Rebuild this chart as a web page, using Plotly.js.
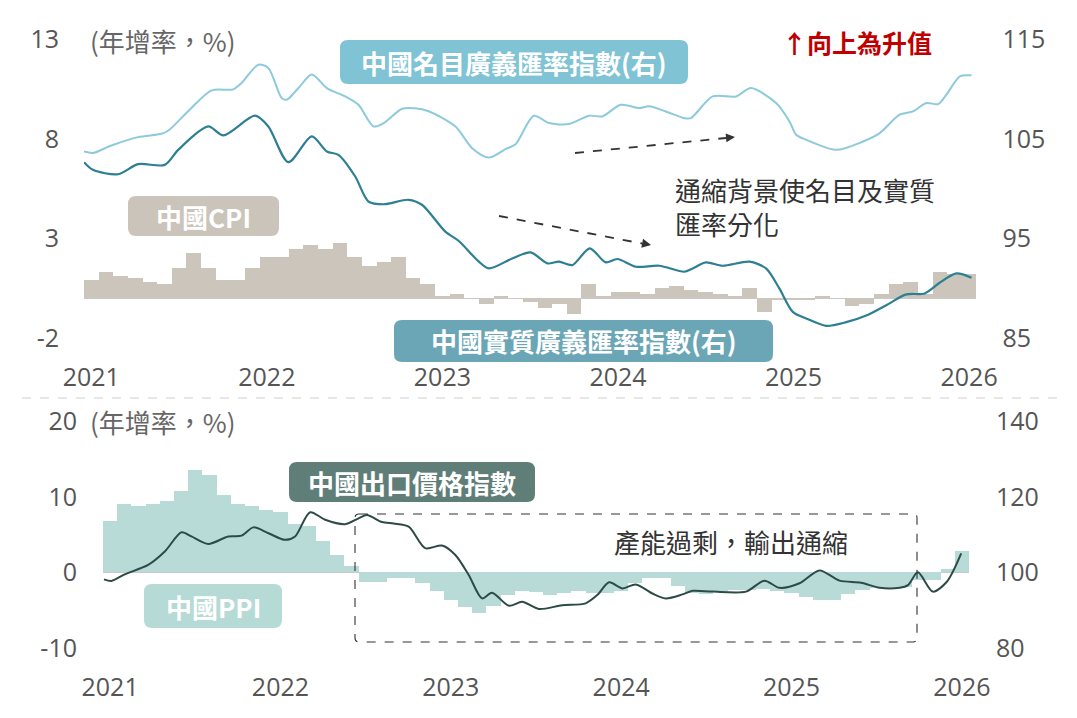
<!DOCTYPE html>
<html><head><meta charset="utf-8">
<script src="https://cdn.plot.ly/plotly-3.0.1.min.js"></script>
<style>body{margin:0;background:#fff}#chart{width:1077px;height:718px}</style>
</head><body><div id="chart"></div>
<script>
// ---- data (x = month index; label ticks every 12 months) ----
const yearLabels = ['2021','2022','2023','2024','2025','2026'];
const cpiTicks = [-2, 3, 8, 13];
const cpiTickText = ['-2', '3', '8', '13'];
const fxTicks = [85, 95, 105, 115];
const ppiTicks = [-10, 0, 10, 20];
const ppiTickText = ['-10', '0', '10', '20'];
const expTicks = [80, 100, 120, 140];

// China CPI, y/y %
const cpi = [0.9,1.3,1.1,1.0,0.8,0.7,1.5,2.3,1.5,
  0.9,0.9,1.5,2.1,2.1,2.5,2.7,2.5,2.8,2.1,1.6,1.8,
  2.1,1.0,0.7,0.1,0.2,0.0,-0.3,0.1,0.0,-0.2,-0.5,-0.3,
  -0.8,0.7,0.1,0.3,0.3,0.2,0.5,0.6,0.4,0.3,0.2,0.1,
  0.5,-0.7,-0.1,-0.1,-0.1,0.1,0.0,-0.4,-0.3,0.2,0.7,0.8,
  0.2,1.3,1.2,1.2];

// China PPI, y/y %
const ppi = [6.8,9.0,8.8,9.0,9.5,10.7,13.5,12.9,10.3,
  9.1,8.8,8.3,8.0,6.4,6.1,4.2,2.3,0.9,-1.3,-1.3,-0.7,
  -0.8,-1.4,-2.5,-3.6,-4.6,-5.4,-4.4,-3.0,-2.5,-2.6,-3.0,-2.7,
  -2.5,-2.7,-2.8,-2.5,-1.4,-0.8,-0.8,-1.8,-2.8,-2.9,-2.5,-2.3,
  -2.3,-2.2,-2.5,-2.7,-3.3,-3.6,-3.6,-2.9,-2.3,-2.1,-2.2,-1.9,
  -1.0,-1.0,0.5,2.8];

// Nominal broad effective exchange rate index (right axis)
const nominalX = [-0.5,0.11,1.37,3.2,4.79,5.25,6.62,8.22,9.7,10.27,11.42,12.1,13.01,13.36,14.16,15.07,16.1,17.35,18.26,19.29,19.98,
  21.24,22.1,23.06,24.89,26.03,27.17,28.31,29.0,30.25,31.28,32.65,34.02,34.93,36.19,37.44,38.13,39.27,40.53,40.98,
  42.47,44.07,45.09,46.81,47.72,48.18,48.87,50.92,52.75,53.89,55.25,56.17,57.08,57.88,58.45,59.37,60.17];
const nominalY = [103.75,103.6,104.36,105.2,105.53,105.84,107.8,109.9,110.0,110.64,112.48,112.15,109.13,108.96,110.13,111.48,110.13,109.29,108.45,106.27,106.6,
  108.05,108.1,107.8,106.27,104.09,103.15,103.99,104.49,107.35,106.61,106.51,107.35,107.28,108.45,108.12,108.29,107.78,107.11,107.11,
  109.29,109.29,110.13,108.62,106.78,105.43,104.93,103.92,104.76,105.6,107.45,107.78,108.62,108.52,109.46,111.31,111.41];

// Real broad effective exchange rate index (right axis)
const realX = [-0.5,0.11,1.83,3.2,5.02,5.94,7.99,9.02,11.19,12.1,13.47,15.07,16.1,16.89,18.04,18.95,19.98,
  21.69,22.6,24.2,25.12,26.49,27.17,28.77,30.03,31.17,31.97,32.88,34.07,35.16,35.96,37.22,38.82,40.53,
  41.1,42.01,43.15,44.98,46.12,47.03,47.95,48.87,50.23,51.6,52.97,54.34,55.71,56.97,57.99,59.13,60.17];
const realY = [102.68,101.91,101.47,102.48,102.41,103.92,106.27,105.37,107.35,106.27,102.68,105.27,103.76,103.42,101.24,98.72,98.45,
  98.9,98.4,95.7,94.76,92.68,92.0,93.0,93.62,92.51,92.68,92.34,94.02,92.61,92.95,92.17,92.27,91.67,
  92.0,92.61,92.27,92.68,92.0,89.99,87.64,86.97,86.23,86.6,87.27,88.31,89.39,89.49,90.56,91.5,91.07];

// China export price index (right axis, bottom panel)
const exportX = [-0.43,0.09,1.03,2.68,3.85,5.03,5.73,6.91,8.32,9.26,10.09,11.15,12.32,13.03,14.09,15.15,16.56,17.5,18.09,19.15,19.97,
  21.03,22.2,23.38,24.32,25.26,26.2,26.9,28.09,29.03,30.2,31.85,33.5,34.32,35.15,36.09,37.03,38.2,39.14,40.32,
  41.03,42.44,44.79,46.09,47.15,48.56,49.97,51.38,52.9,54.2,55.61,56.2,56.9,57.95,58.94,59.95];
const exportY = [98.14,97.7,99.47,101.95,105.5,110.6,109.5,107.5,109.5,109.7,111.9,110.35,108.6,109.5,115.9,113.9,112.74,114.3,115.2,113.3,112.9,
  112.1,106.4,107.1,104.6,99.3,93.1,94.6,91.15,92.2,90.3,91.3,91.8,94.0,97.35,95.75,96.8,94.4,93.1,94.16,
  95.1,94.9,94.9,97.8,95.9,97.1,100.5,97.8,97.26,95.9,95.9,96.6,100.0,94.9,97.5,105.0];

// ---- helpers ----
const W = 1077, H = 718;
const px = x => x / W;
const py = y => 1 - y / H;
const idx = cpi.map((_, i) => i);
const idx2 = ppi.map((_, i) => i);
const tickIdx = yearLabels.map((_, k) => k * 12);

const CJK = '"Noto Sans CJK TC", "Noto Sans", sans-serif';
const NUM = '"Open Sans", "Noto Sans", sans-serif';
const tickFont = {family: NUM, size: 25, color: '#555'};

function rrect(x0, y0, x1, y1, r) {
  const X = v => px(v).toFixed(5), Y = v => py(v).toFixed(5);
  return 'M' + X(x0 + r) + ',' + Y(y0) + ' L' + X(x1 - r) + ',' + Y(y0) +
    ' Q' + X(x1) + ',' + Y(y0) + ' ' + X(x1) + ',' + Y(y0 + r) +
    ' L' + X(x1) + ',' + Y(y1 - r) +
    ' Q' + X(x1) + ',' + Y(y1) + ' ' + X(x1 - r) + ',' + Y(y1) +
    ' L' + X(x0 + r) + ',' + Y(y1) +
    ' Q' + X(x0) + ',' + Y(y1) + ' ' + X(x0) + ',' + Y(y1 - r) +
    ' L' + X(x0) + ',' + Y(y0 + r) +
    ' Q' + X(x0) + ',' + Y(y0) + ' ' + X(x0 + r) + ',' + Y(y0) + ' Z';
}
function box(x0, y0, x1, y1, color) {
  return {type: 'path', xref: 'paper', yref: 'paper', path: rrect(x0, y0, x1, y1, 8),
    fillcolor: color, line: {width: 0}, layer: 'above'};
}
function label(text, cx, cy, opts) {
  return Object.assign({xref: 'paper', yref: 'paper', x: px(cx), y: py(cy), text: text,
    showarrow: false, xanchor: 'center', yanchor: 'middle',
    font: {family: CJK, size: 26, color: '#fff', weight: 'bold'}}, opts || {});
}

const traces = [
  {type: 'bar', x: idx, y: cpi, xaxis: 'x', yaxis: 'y', marker: {color: '#ccc5bb', line: {width: 0}}, hoverinfo: 'skip'},
  {type: 'scatter', mode: 'lines', x: nominalX, y: nominalY, xaxis: 'x', yaxis: 'y2',
    line: {color: '#8dcadb', width: 2, shape: 'spline', smoothing: 0.8}, hoverinfo: 'skip'},
  {type: 'scatter', mode: 'lines', x: realX, y: realY, xaxis: 'x', yaxis: 'y2',
    line: {color: '#2d7f93', width: 2.2, shape: 'spline', smoothing: 0.8}, hoverinfo: 'skip'},
  {type: 'bar', x: idx2, y: ppi, xaxis: 'x2', yaxis: 'y3', marker: {color: '#b8dbd8', line: {width: 0}}, hoverinfo: 'skip'},
  {type: 'scatter', mode: 'lines', x: exportX, y: exportY, xaxis: 'x2', yaxis: 'y4',
    line: {color: '#2c4b46', width: 2, shape: 'spline', smoothing: 0.8}, hoverinfo: 'skip'}
];

const axBase = {showgrid: false, showline: false, ticks: '', tickfont: tickFont, fixedrange: true};

const layout = {
  width: W, height: H, autosize: false,
  margin: {l: 0, r: 0, t: 0, b: 0},
  paper_bgcolor: '#fff', plot_bgcolor: 'rgba(0,0,0,0)',
  showlegend: false, bargap: 0,
  xaxis: Object.assign({}, axBase, {domain: [px(84), px(976.4)], range: [-0.5, 60.5], anchor: 'y',
    tickmode: 'array', tickvals: tickIdx, ticktext: yearLabels, zeroline: false, ticklabelstandoff: 22}),
  yaxis: Object.assign({}, axBase, {domain: [py(338.1), py(39.6)], range: [-2, 13], anchor: 'x',
    tickmode: 'array', tickvals: cpiTicks, ticktext: cpiTickText, zeroline: true, zerolinecolor: '#c9c9c9', zerolinewidth: 1.2,
    ticklabelstandoff: 24}),
  yaxis2: Object.assign({}, axBase, {overlaying: 'y', side: 'right', range: [85, 115], anchor: 'x',
    tickmode: 'array', tickvals: fxTicks, zeroline: false, ticklabelstandoff: 25}),
  xaxis2: Object.assign({}, axBase, {domain: [px(103), px(969)], range: [-0.5, 60.5], anchor: 'y3',
    tickmode: 'array', tickvals: tickIdx, ticktext: yearLabels, zeroline: false, ticklabelstandoff: 22}),
  yaxis3: Object.assign({}, axBase, {domain: [py(647.9), py(421.2)], range: [-10, 20], anchor: 'x2',
    tickmode: 'array', tickvals: ppiTicks, ticktext: ppiTickText, zeroline: true, zerolinecolor: '#c9c9c9', zerolinewidth: 1.2,
    ticklabelstandoff: 25}),
  yaxis4: Object.assign({}, axBase, {overlaying: 'y3', side: 'right', range: [80, 140], anchor: 'x2',
    tickmode: 'array', tickvals: expTicks, zeroline: false, ticklabelstandoff: 26}),
  shapes: [
    {type: 'line', xref: 'paper', yref: 'paper', x0: px(22), x1: px(1061), y0: py(398), y1: py(398),
      line: {color: '#cfcfcf', width: 1, dash: 'dash'}},
    box(340, 40, 688, 84, '#80c3d5'),
    box(394, 320, 773, 362, '#6aa6b6'),
    box(128, 196, 279, 236, '#cbc4ba'),
    box(289, 462, 535, 502, '#607e78'),
    box(144, 584, 282, 628, '#b6dad6'),
    {type: 'path', xref: 'paper', yref: 'paper', path: rrect(355, 514, 917, 642, 4),
      line: {color: '#333', width: 1.1, dash: 'dash'}, fillcolor: 'rgba(0,0,0,0)', layer: 'above'},
    {type: 'line', xref: 'paper', yref: 'paper', x0: px(575), y0: py(153), x1: px(726), y1: py(138),
      line: {color: '#333', width: 1.8, dash: 'dash'}},
    {type: 'line', xref: 'paper', yref: 'paper', x0: px(499), y0: py(216), x1: px(642), y1: py(243.5),
      line: {color: '#333', width: 1.8, dash: 'dash'}}
  ],
  annotations: [
    label('(年增率，%)', 88, 40, {xanchor: 'left', font: {family: CJK, size: 26, color: '#666'}}),
    label('(年增率，%)', 88, 421, {xanchor: 'left', font: {family: CJK, size: 26, color: '#666'}}),
    label('中國名目廣義匯率指數(右)', 514, 62),
    label('中國實質廣義匯率指數(右)', 583.5, 341),
    label('中國CPI', 203.5, 216),
    label('中國出口價格指數', 412, 482),
    label('中國PPI', 213, 606),
    label('↑向上為升值', 857, 42, {font: {family: CJK, size: 25, color: '#c00000', weight: 'bold'}}),
    label('通縮背景使名目及實質<br>匯率分化', 673, 206, {xanchor: 'left', align: 'left',
      font: {family: CJK, size: 26, color: '#333'}}),
    label('產能過剩，輸出通縮', 731, 541.5, {font: {family: CJK, size: 26, color: '#333'}}),
    {xref: 'paper', yref: 'paper', x: px(735), y: py(137), ax: -10, ay: 1, text: '', showarrow: true,
      arrowhead: 2, arrowsize: 1, arrowwidth: 1.8, arrowcolor: '#333'},
    {xref: 'paper', yref: 'paper', x: px(651), y: py(245), ax: -10, ay: -2, text: '', showarrow: true,
      arrowhead: 2, arrowsize: 1, arrowwidth: 1.8, arrowcolor: '#333'}
  ]
};

Plotly.newPlot('chart', traces, layout, {staticPlot: true, displayModeBar: false});
</script>
</body></html>
